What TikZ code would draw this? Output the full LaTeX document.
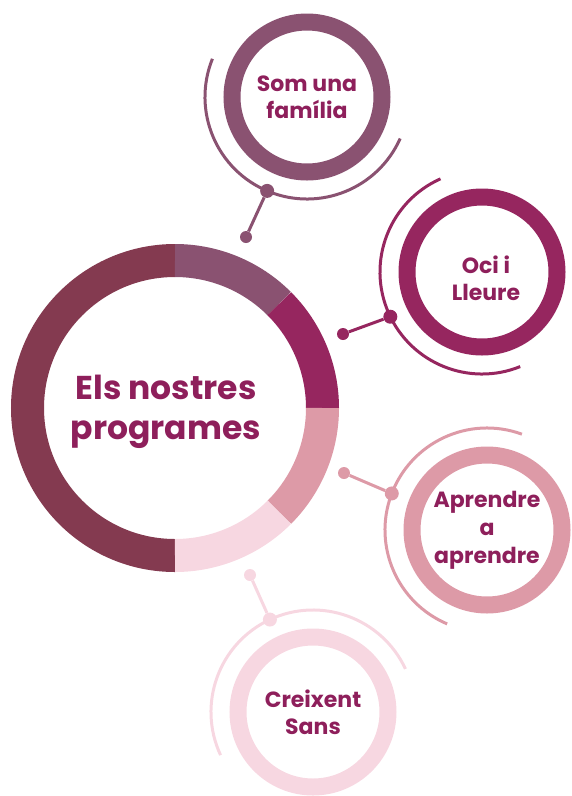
\documentclass[tikz,border=0pt]{standalone}
\usepackage{fontspec}
\setmainfont{Poppins}
\definecolor{maroon}{HTML}{843A50}
\definecolor{mauve}{HTML}{8A5271}
\definecolor{magenta}{HTML}{96265F}
\definecolor{pinkc}{HTML}{DD9AA7}
\definecolor{lightpink}{HTML}{F7D7E1}
\definecolor{titlec}{HTML}{8E1F5B}
\begin{document}
\begin{tikzpicture}[x=1pt,y=1pt,
  ring/.style={circle,draw=#1,line width=17pt,minimum size=150pt,inner sep=0pt},
  label/.style={text=titlec,align=center,font=\fontsize{22}{27}\selectfont\bfseries},
  orbit/.style={draw=#1,line width=3pt},
  dot/.style={circle,fill=#1,inner sep=0pt,minimum size=14pt},
  enddot/.style={circle,fill=#1,inner sep=0pt,minimum size=12pt}]
\useasboundingbox (0,0) rectangle (572,-796);
% big ring
\coordinate (c) at (175,-408);
\foreach \a/\b/\col in {90/270/maroon,90/45/mauve,45/0/magenta,0/-45/pinkc,-45/-90/lightpink}
  \draw[\col,line width=33pt] (c) ++(\a:147.5pt) arc[start angle=\a,end angle=\b,radius=147.5pt];
\node[text=titlec,align=center,font=\fontsize{33}{40}\selectfont\bfseries] (title) at (166,-412) {Els nostres\\programes};
% Som una familia
\node[ring=mauve] (b1) at (307,-97) {};
\node[label] (t1) at (b1) {Som una\\família};
\draw[orbit=mauve] (b1) ++(158:102pt) arc[start angle=158,end angle=336,radius=102pt];
\path (b1) ++(247:102pt) node[dot=mauve] (d1) {};
\node[enddot=mauve] (e1) at (246,-237) {};
\draw[mauve,line width=3pt] (d1) -- (e1);
% Oci i Lleure
\node[ring=magenta] (b2) at (482,-272) {};
\node[label] (t2) at ([shift={(4,-6)}]b2) {Oci i\\Lleure};
\draw[orbit=magenta] (b2) ++(114:102pt) arc[start angle=114,end angle=292,radius=102pt];
\path (b2) ++(206:102pt) node[dot=magenta] (d2) {};
\node[enddot=magenta] (e2) at (343,-334) {};
\draw[magenta,line width=3pt] (d2) -- (e2);
% Aprendre a aprendre
\node[ring=pinkc] (b3) at (487,-530) {};
\node[label,font=\fontsize{22}{28}\selectfont\bfseries] (t3) at (b3) {Aprendre\\a\\aprendre};
\draw[orbit=pinkc] (b3) ++(70:102pt) arc[start angle=70,end angle=247,radius=102pt];
\path (b3) ++(159:102pt) node[dot=pinkc] (d3) {};
\node[enddot=pinkc] (e3) at (344,-473) {};
\draw[pinkc,line width=3pt] (d3) -- (e3);
% Creixent Sans
\node[ring=lightpink] (b4) at (313,-712) {};
\node[label] (t4) at (b4) {Creixent\\Sans};
\draw[orbit=lightpink] (b4) ++(25:102pt) arc[start angle=25,end angle=205,radius=102pt];
\path (b4) ++(115:102pt) node[dot=lightpink] (d4) {};
\node[enddot=lightpink] (e4) at (250,-575) {};
\draw[lightpink,line width=3pt] (d4) -- (e4);
\end{tikzpicture}
\end{document}
